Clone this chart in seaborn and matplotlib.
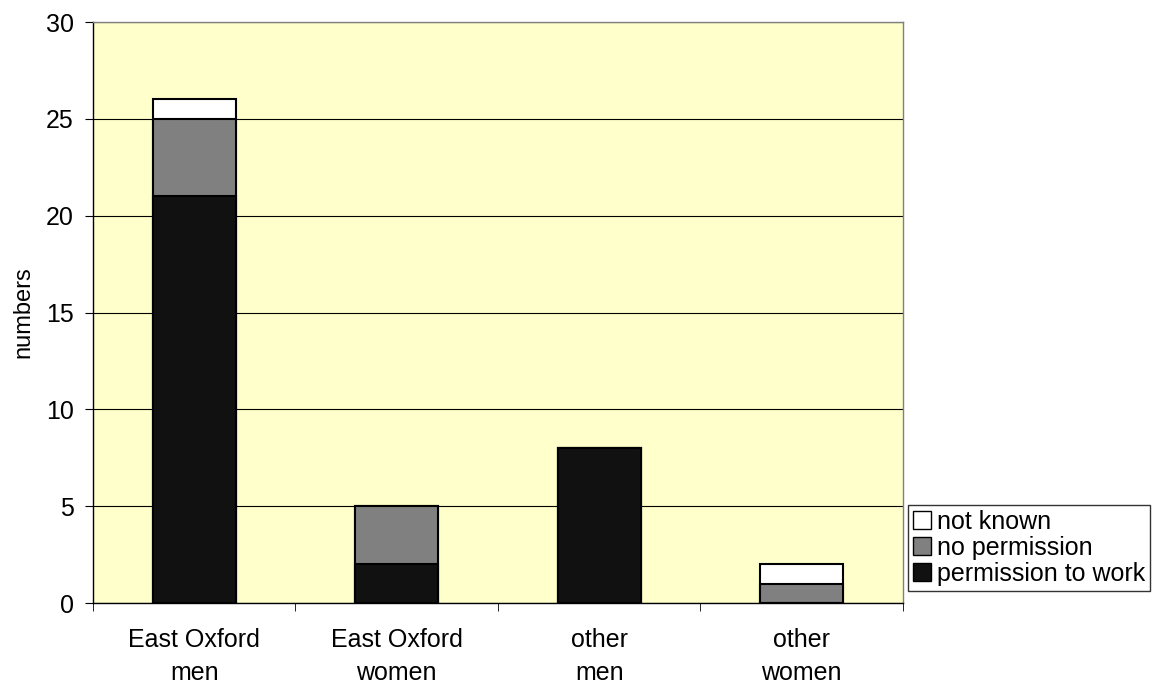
import numpy as np
import pandas as pd
import seaborn as sns
from matplotlib import pyplot as plt
from matplotlib.patches import Patch

categories = ['East Oxford\nmen', 'East Oxford\nwomen', 'other\nmen', 'other\nwomen']
permission = [21, 2, 8, 0]
no_permission = [4, 3, 0, 1]
not_known = [1, 0, 0, 1]

sns.set_style('white')
plt.rcParams['font.family'] = ['Liberation Sans', 'DejaVu Sans']
plt.rcParams['text.color'] = 'black'
plt.rcParams['axes.labelcolor'] = 'black'
plt.rcParams['xtick.color'] = 'black'
plt.rcParams['ytick.color'] = 'black'

df = pd.DataFrame({'cat': categories, 'perm': permission,
                   'noperm': no_permission, 'unk': not_known})
df['l2'] = df['perm'] + df['noperm']
df['l3'] = df['l2'] + df['unk']

fig = plt.figure(figsize=(11.71, 6.84), dpi=100)
ax = fig.add_axes([0.0794, 0.1184, 0.6917, 0.8494])
ax.set_facecolor('#FFFFCC')

# stacked: draw totals first, then overlay lower parts
for col, c in [('l3', 'white'), ('l2', '#808080'), ('perm', '#111111')]:
    sns.barplot(data=df, x='cat', y=col, color=c, width=0.41,
                edgecolor='black', linewidth=1.5, saturation=1, ax=ax, zorder=3)

ax.set_ylim(0, 30)
ax.set_xlim(-0.5, 3.5)
ax.set_yticks(np.arange(0, 31, 5))
ax.yaxis.grid(True, color='black', linewidth=0.8, zorder=0)
ax.set_axisbelow(True)
for s in ax.spines.values():
    s.set_color('#808080')
    s.set_linewidth(1)
ax.spines['bottom'].set_color('black')
ax.spines['left'].set_color('black')

ax.set_xticks(np.arange(-0.5, 4, 1), minor=True)
ax.tick_params(axis='x', which='major', length=0, labelsize=18, pad=18)
ax.tick_params(axis='x', which='minor', length=6, direction='out', color='black', bottom=True)
ax.tick_params(axis='y', length=6, direction='out', color='black', labelsize=18, left=True, pad=8)
for lbl in ax.get_xticklabels():
    lbl.set_linespacing(1.45)
ax.set_xlabel('')
ax.set_ylabel('numbers', fontsize=17, labelpad=8)

handles = [Patch(facecolor='white', edgecolor='black', label='not known'),
           Patch(facecolor='#808080', edgecolor='black', label='no permission'),
           Patch(facecolor='#111111', edgecolor='black', label='permission to work')]
leg = fig.legend(handles=handles, loc='upper left', bbox_to_anchor=(0.7755, 0.262),
                 fontsize=18, frameon=True, fancybox=False, edgecolor='black',
                 handlelength=0.7, handleheight=0.7, handletextpad=0.25,
                 labelspacing=0.08, borderpad=0.2, borderaxespad=0)
leg.get_frame().set_linewidth(1)

fig.savefig('out.png', dpi=100, facecolor='white')
